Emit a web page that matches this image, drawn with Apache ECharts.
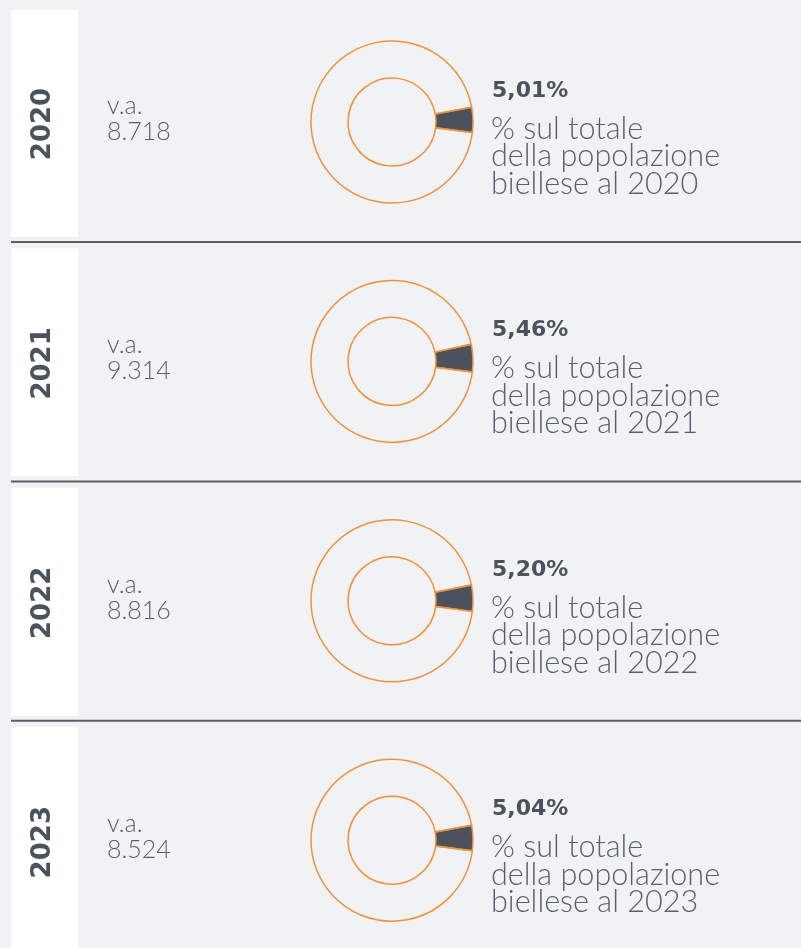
<!DOCTYPE html>
<html>
<head>
<meta charset="utf-8">
<script src="https://cdn.jsdelivr.net/npm/echarts@6/dist/echarts.min.js"></script>
<style>
    html, body { margin: 0; padding: 0; background: #f1f2f4; }
    #chart { width: 801px; height: 948px; }
</style>
</head>
<body>
<div id="chart"></div>
<script>
// dati
var anni = ['2020', '2021', '2022', '2023'];
var valoriAssoluti = [8718, 9314, 8816, 8524];
var quote = [5.01, 5.46, 5.20, 5.04];

var arancio = '#f59036';
var ardesia = '#4a535d';
var grigioTesto = '#58626d';

var passo = 239.4;      // altezza di ogni riga
var cy0 = 122;          // centro della prima ciambella

function formatNum(n) {
    return String(n).replace(/\B(?=(\d{3})+(?!\d))/g, '.');
}
function formatPerc(v) {
    return v.toFixed(2).replace('.', ',') + '%';
}

var fontLight = '300 30.6px Lato';
var series = [];
var graphic = [];

anni.forEach(function (anno, i) {
    var cy = cy0 + i * passo;
    var stripTop = i == 0 ? 10 : cy - 113;
    var stripBottom = i == anni.length - 1 ? 948 : cy + 114.7;

    // fascia bianca a sinistra
    graphic.push({
        type: 'rect', z: -10, silent: true,
        shape: { x: 11, y: stripTop, width: 67, height: stripBottom - stripTop },
        style: { fill: '#ffffff' }
    });
    // separatore
    if (i < anni.length - 1) {
        graphic.push({
            type: 'rect', z: -10, silent: true,
            shape: { x: 11, y: cy + 119, width: 790, height: 2 },
            style: { fill: '#5b5f64' }
        });
    }
    // anno ruotato
    graphic.push({
        type: 'text', silent: true,
        x: 43, y: cy + 2, rotation: Math.PI / 2,
        style: {
            text: anno, font: 'bold 26px "DejaVu Sans"', fill: ardesia,
            align: 'center', verticalAlign: 'middle'
        }
    });
    // v.a.
    graphic.push({
        type: 'text', silent: true,
        x: 107, y: cy - 16,
        style: { text: 'v.a.', font: '300 25px Lato', fill: grigioTesto, align: 'left', verticalAlign: 'middle' }
    });
    graphic.push({
        type: 'text', silent: true,
        x: 107, y: cy + 10,
        style: { text: formatNum(valoriAssoluti[i]), font: '300 25px Lato', fill: grigioTesto, align: 'left', verticalAlign: 'middle' }
    });
    // percentuale
    graphic.push({
        type: 'text', silent: true,
        x: 492, y: cy - 31,
        style: { text: formatPerc(quote[i]), font: 'bold 22px "DejaVu Sans"', fill: ardesia, align: 'left', verticalAlign: 'middle' }
    });
    var righe = ['% sul totale', 'della popolazione', 'biellese al ' + anno];
    righe.forEach(function (r, k) {
        graphic.push({
            type: 'text', silent: true,
            x: 491, y: cy + 7 + k * 27.5,
            style: { text: r, font: fontLight, fill: grigioTesto, align: 'left', verticalAlign: 'middle' }
        });
    });

    // ciambella
    series.push({
        type: 'pie',
        center: [392, cy],
        radius: [44, 81],
        startAngle: -7.5,
        clockwise: false,
        silent: true,
        label: { show: false },
        labelLine: { show: false },
        emphasis: { disabled: true },
        itemStyle: { borderColor: arancio, borderWidth: 1.5 },
        data: [
            { value: quote[i], name: 'quota', itemStyle: { color: ardesia } },
            { value: 100 - quote[i], name: 'resto', itemStyle: { color: 'rgba(0,0,0,0)' } }
        ]
    });
});

var myChart = echarts.init(document.getElementById('chart'));
myChart.setOption({
    backgroundColor: '#f1f2f4',
    animation: false,
    graphic: graphic,
    series: series
});
</script>
</body>
</html>
